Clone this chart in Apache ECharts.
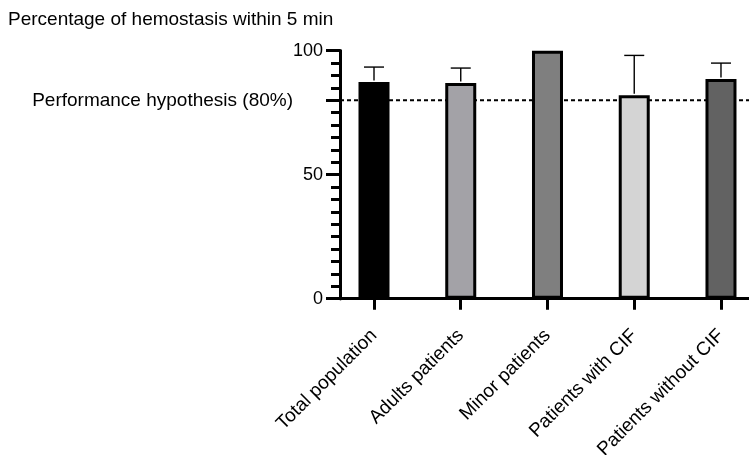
<!DOCTYPE html>
<html>
<head>
<meta charset="utf-8">
<script src="https://cdn.jsdelivr.net/npm/echarts@6/dist/echarts.min.js"></script>
<style>
  html, body { margin: 0; padding: 0; background: #fff; }
  #chart { width: 749px; height: 455px; }
</style>
</head>
<body>
<div id="chart"></div>
<script>
// data
const categories = ['Total population', 'Adults patients', 'Minor patients', 'Patients with CIF', 'Patients without CIF'];
const values = [87.4, 87.0, 100, 82.0, 88.6];
const errorTops = [93.4, 93.0, 100, 98.1, 95.0];
const barColors = ['#000000', '#a3a2a7', '#7f7f7f', '#d4d4d4', '#626262'];
const hypothesis = 80;

const xMin = -0.392;
const xMax = 4.323;
const font = 'Liberation Sans, Arial, Helvetica, sans-serif';

const chart = echarts.init(document.getElementById('chart'));

chart.setOption({
  backgroundColor: '#fff',
  animation: false,
  title: {
    text: 'Percentage of hemostasis within 5 min',
    left: 3,
    top: 5,
    textStyle: { fontFamily: font, fontSize: 19, fontWeight: 'normal', color: '#000' },
  },
  grid: { left: 340, right: 0, top: 50.7, bottom: 156.3, outerBoundsMode: 'none' },
  xAxis: {
    type: 'value',
    min: xMin,
    max: xMax,
    splitLine: { show: false },
    axisLine: { show: true, onZero: false, lineStyle: { color: '#000', width: 3 } },
    axisTick: { show: true, customValues: [0, 1, 2, 3, 4], length: 11, lineStyle: { color: '#000', width: 3 } },
    axisLabel: {
      customValues: [0, 1, 2, 3, 4],
      formatter: (v) => categories[Math.round(v)],
      rotate: 45,
      margin: 34,
      color: '#000',
      fontFamily: font,
      fontSize: 19,
    },
  },
  yAxis: [
    {
      type: 'value',
      min: 0,
      max: 100,
      interval: 50,
      splitLine: { show: false },
      axisLine: { show: true, onZero: false, lineStyle: { color: '#000', width: 3 } },
      axisTick: { show: true, length: 14, lineStyle: { color: '#000', width: 3 } },
      minorTick: { show: true, splitNumber: 10, length: 9, lineStyle: { color: '#000', width: 3 } },
      axisLabel: { color: '#000', fontFamily: font, fontSize: 18, margin: 17 },
    },
    {
      // carries the long tick and the label of the hypothesis line
      type: 'value',
      position: 'left',
      min: 0,
      max: 100,
      interval: hypothesis,
      splitLine: { show: false },
      axisLine: { show: true, onZero: false, lineStyle: { color: '#000', width: 3 } },
      axisTick: { show: true, length: 14, lineStyle: { color: '#000', width: 3 } },
      axisLabel: {
        formatter: (v) => (v === hypothesis ? 'Performance hypothesis (' + hypothesis + '%)' : ''),
        color: '#000',
        fontFamily: font,
        fontSize: 19,
        margin: 47,
      },
    },
  ],
  series: [
    {
      type: 'line',
      z: 1,
      symbol: 'none',
      silent: true,
      lineStyle: { color: '#000', width: 2, type: [4, 3] },
      data: [[xMin, hypothesis], [xMax, hypothesis]],
    },
    {
      type: 'bar',
      z: 3,
      barWidth: 31,
      data: values.map((v, i) => ({
        value: [i, v],
        itemStyle: { color: barColors[i], borderColor: '#000', borderWidth: 3 },
      })),
    },
    {
      type: 'custom',
      z: 4,
      data: values.map((v, i) => [i, v, errorTops[i]]),
      renderItem: (params, api) => {
        const bottom = api.coord([api.value(0), api.value(1)]);
        const top = api.coord([api.value(0), api.value(2)]);
        if (top[1] >= bottom[1] - 0.5) return null;
        const style = { stroke: '#000', lineWidth: 1.4 };
        return {
          type: 'group',
          children: [
            { type: 'line', shape: { x1: top[0], y1: top[1], x2: bottom[0], y2: bottom[1] - 1.5 }, style },
            { type: 'line', shape: { x1: top[0] - 10, y1: top[1], x2: top[0] + 10, y2: top[1] }, style },
          ],
        };
      },
    },
  ],
});

window.addEventListener('resize', () => chart.resize());
</script>
</body>
</html>
